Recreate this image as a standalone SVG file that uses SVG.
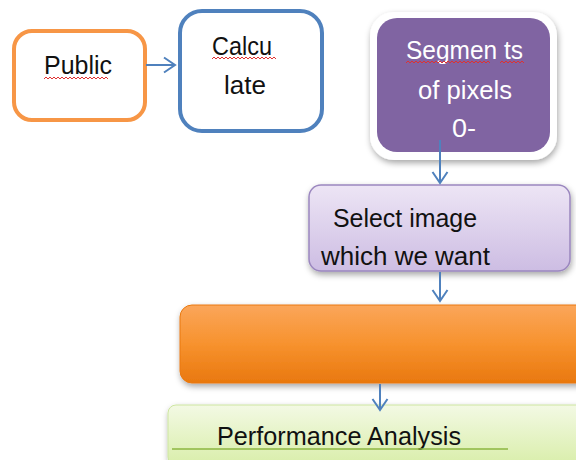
<svg xmlns="http://www.w3.org/2000/svg" width="576" height="460" viewBox="0 0 576 460">
<defs>
<style>
.t{font-family:"Liberation Sans",Arial,sans-serif;font-size:25px;fill:#111}
.w{fill:#fff}
.con{stroke:#4F81BD;stroke-width:2;fill:none}
.sq{stroke:#E03030;stroke-width:1;fill:none}
</style>
<marker id="ah" markerWidth="18" markerHeight="18" refX="13" refY="9" orient="auto" markerUnits="userSpaceOnUse">
<path d="M2,1.5 L13,9 L2,16.5" fill="none" stroke="#4F81BD" stroke-width="2"/>
</marker>
<linearGradient id="gp" x1="0" y1="0" x2="0" y2="1"><stop offset="0" stop-color="#EDE5F5"/><stop offset="1" stop-color="#CDBDE3"/></linearGradient>
<linearGradient id="go" x1="0" y1="0" x2="0" y2="1"><stop offset="0" stop-color="#FBA65A"/><stop offset="0.5" stop-color="#F7922E"/><stop offset="1" stop-color="#E9780F"/></linearGradient>
<linearGradient id="gg" x1="0" y1="0" x2="0" y2="1"><stop offset="0" stop-color="#F3F9E4"/><stop offset="1" stop-color="#D9EEAA"/></linearGradient>
<filter id="sh" x="-10%" y="-10%" width="125%" height="130%"><feDropShadow dx="1" dy="3" stdDeviation="3" flood-color="#000" flood-opacity="0.35"/></filter>
</defs>
<g id="public">
<rect x="14" y="31" width="131" height="89" rx="18" fill="#fff" stroke="#F79646" stroke-width="4"/>
<text class="t" x="44" y="74" textLength="68" lengthAdjust="spacingAndGlyphs">Public</text>
<path class="sq" d="M44,79 l2,-2 l2,2 l2,-2 l2,2 l2,-2 l2,2 l2,-2 l2,2 l2,-2 l2,2 l2,-2 l2,2 l2,-2 l2,2 l2,-2 l2,2 l2,-2 l2,2 l2,-2 l2,2 l2,-2 l2,2 l2,-2 l2,2 l2,-2 l2,2 l2,-2 l2,2 l2,-2 l2,2 l2,-2 l2,2"/>
</g>
<g id="calculate">
<rect x="180" y="11" width="142" height="120" rx="22" fill="#fff" stroke="#4F81BD" stroke-width="4"/>
<text class="t" x="212" y="55" textLength="60" lengthAdjust="spacingAndGlyphs">Calcu</text>
<path class="sq" d="M212,59 l2,-2 l2,2 l2,-2 l2,2 l2,-2 l2,2 l2,-2 l2,2 l2,-2 l2,2 l2,-2 l2,2 l2,-2 l2,2 l2,-2 l2,2 l2,-2 l2,2 l2,-2 l2,2 l2,-2 l2,2 l2,-2 l2,2 l2,-2 l2,2 l2,-2 l2,2 l2,-2 l2,2 l2,-2 l2,2"/>
<text class="t" x="224" y="94" textLength="42" lengthAdjust="spacingAndGlyphs">late</text>
</g>
<g id="segments">
<rect x="370" y="12" width="187" height="148" rx="24" fill="#fff" filter="url(#sh)"/>
<rect x="377" y="18" width="173" height="134" rx="20" fill="#8064A2"/>
<text class="t w" x="406" y="59" textLength="117" lengthAdjust="spacingAndGlyphs">Segmen ts</text>
<path class="sq" d="M406,63 l2,-2 l2,2 l2,-2 l2,2 l2,-2 l2,2 l2,-2 l2,2 l2,-2 l2,2 l2,-2 l2,2 l2,-2 l2,2 l2,-2 l2,2 l2,-2 l2,2 l2,-2 l2,2 l2,-2 l2,2 l2,-2 l2,2 l2,-2 l2,2 l2,-2 l2,2 l2,-2 l2,2 l2,-2 l2,2 l2,-2 l2,2 l2,-2 l2,2 l2,-2 l2,2 l2,-2 l2,2 l2,-2 l2,2 M500,63 l2,-2 l2,2 l2,-2 l2,2 l2,-2 l2,2 l2,-2 l2,2 l2,-2 l2,2 l2,-2 l2,2"/>
<text class="t w" x="418" y="99" textLength="94" lengthAdjust="spacingAndGlyphs">of pixels</text>
<text class="t w" x="452" y="137" textLength="24" lengthAdjust="spacingAndGlyphs">0-</text>
</g>
<g id="select">
<rect x="309" y="185" width="261" height="86" rx="12" fill="url(#gp)" stroke="#9B87BF" stroke-width="1.5" filter="url(#sh)"/>
<text class="t" x="333" y="227" textLength="144" lengthAdjust="spacingAndGlyphs">Select image</text>
<text class="t" x="321" y="265" textLength="169" lengthAdjust="spacingAndGlyphs">which we want</text>
</g>
<g id="orange">
<rect x="180" y="305" width="410" height="78" rx="12" fill="url(#go)" stroke="#E9780F" stroke-width="1" filter="url(#sh)"/>
</g>
<g id="performance">
<rect x="168" y="405" width="420" height="60" rx="8" fill="url(#gg)" stroke="#CDE5A0" stroke-width="1" filter="url(#sh)"/>
<text class="t" x="217" y="445" textLength="244" lengthAdjust="spacingAndGlyphs">Performance Analysis</text>
<line x1="172" y1="449" x2="508" y2="449" stroke="#8DB640" stroke-width="1.5"/>
</g>
<g id="connectors">
<path class="con" d="M146,65 L175,65" marker-end="url(#ah)"/>
<path class="con" d="M440,140 L440,183" marker-end="url(#ah)"/>
<path class="con" d="M440,272 L440,301" marker-end="url(#ah)"/>
<path class="con" d="M380,384 L380,410" marker-end="url(#ah)"/>
</g>
</svg>
